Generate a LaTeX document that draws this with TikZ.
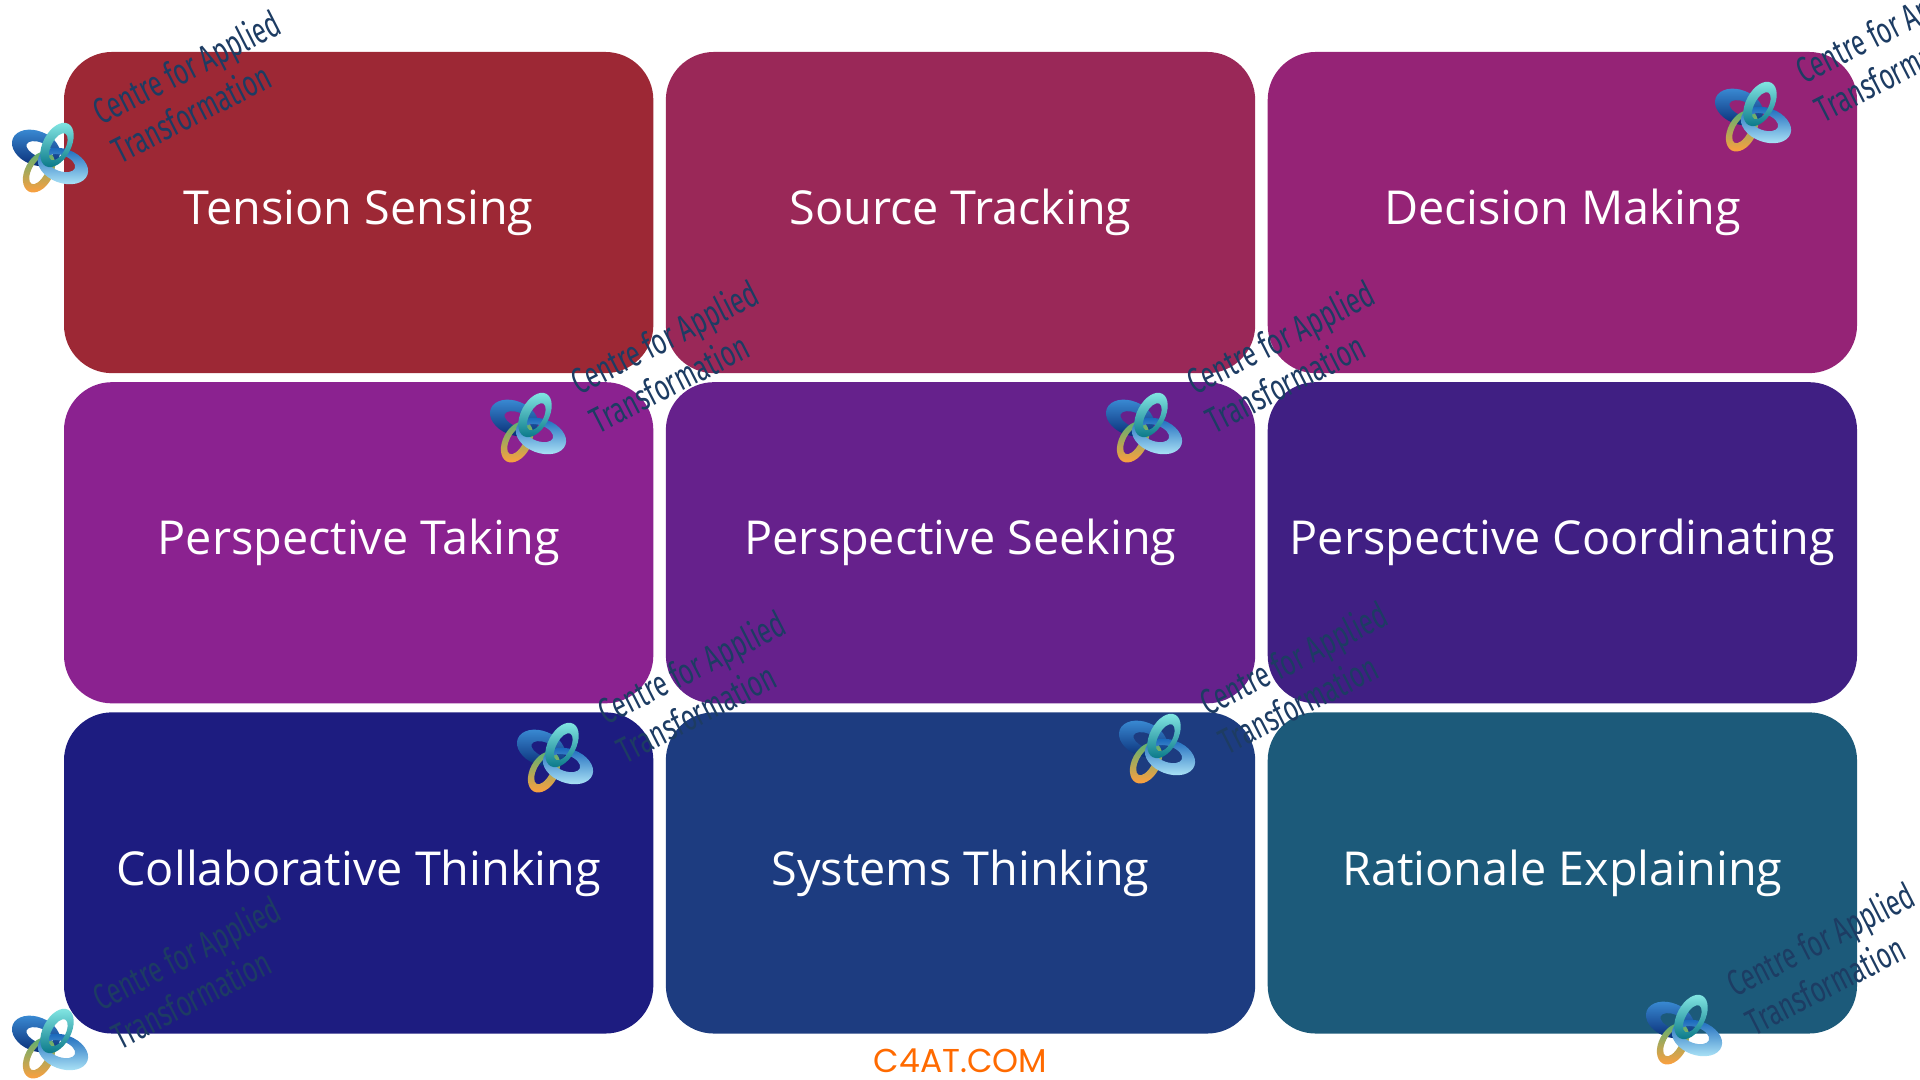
\documentclass[tikz,border=0pt]{standalone}
\usepackage{fontspec}
\setmainfont{Open Sans}
\newfontfamily\markfont[FakeStretch=0.68]{Fira Sans}
\newfontfamily\sitefont{Poppins}
\usepackage{xcolor}
\usetikzlibrary{positioning}
\definecolor{tensioncol}{HTML}{9D2835}
\definecolor{sourcecol}{HTML}{9A2858}
\definecolor{decisioncol}{HTML}{952376}
\definecolor{takingcol}{HTML}{8B2290}
\definecolor{seekingcol}{HTML}{66218C}
\definecolor{coordcol}{HTML}{401F83}
\definecolor{collabcol}{HTML}{1D1C80}
\definecolor{systemscol}{HTML}{1D3C80}
\definecolor{rationalecol}{HTML}{1C5A7A}
\definecolor{markcol}{HTML}{1D3C63}
\definecolor{sitecol}{HTML}{FF6A00}
\definecolor{navyring}{HTML}{0A2F78}
\definecolor{brightring}{HTML}{3C8FD8}
\definecolor{paleteal}{HTML}{7FE3E0}
\definecolor{deepteal}{HTML}{0E7C8C}
\definecolor{deepsky}{HTML}{1060B8}
\definecolor{palesky}{HTML}{A8E0F5}
\definecolor{goldring}{HTML}{F8A040}
\definecolor{greenring}{HTML}{60B070}

\begin{document}
\begin{tikzpicture}[
    x=0.01cm, y=0.01cm,
    node distance=0.09cm and 0.125cm,
    card/.style={rectangle, minimum width=5.89cm, minimum height=3.21cm,
                 rounded corners=0.48cm, align=center, inner sep=0pt, outer sep=0pt,
                 text=white, font=\fontsize{13.3}{16}\selectfont},
    watermark/.style={rotate=27, align=left, text=markcol, inner sep=0pt,
                      font=\markfont\fontsize{10.4}{12.2}\selectfont},
    site/.style={text=sitecol, inner sep=0pt, font=\sitefont\fontsize{9.4}{11}\selectfont},
    ringblue/.style={even odd rule, top color=brightring, bottom color=navyring},
    ringteal/.style={even odd rule, top color=paleteal, bottom color=deepteal},
    ringsky/.style={even odd rule, top color=deepsky, bottom color=palesky},
    ringgold/.style={even odd rule, bottom color=goldring, top color=greenring},
    logo/.pic={
        \node[watermark] (-label) at (146,71) {Centre for Applied\\Transformation};
        \begin{scope}[shift={(-14,9)}, rotate=-22]
            \shade[ringblue] (0,0) ellipse (25 and 17) (4,0) ellipse (14 and 7);
        \end{scope}
        \begin{scope}[shift={(-11,-15)}, rotate=62]
            \shade[ringgold] (0,0) ellipse (22 and 14) (1,1) ellipse (15 and 7);
        \end{scope}
        \begin{scope}[shift={(13,-9)}, rotate=-20]
            \shade[ringsky] (0,0) ellipse (26 and 17) (-3,2) ellipse (15 and 8);
        \end{scope}
        \begin{scope}[shift={(7,12)}, rotate=62]
            \shade[ringteal] (0,0) ellipse (24 and 14) (-1,-2) ellipse (15 and 7);
        \end{scope}
    }
]
    \useasboundingbox (0,0) rectangle (1920,1080);

    \node[card, fill=tensioncol, anchor=north west] (tension) at (64,1028) {Tension Sensing};
    \node[card, fill=sourcecol, right=of tension]   (source)   {Source Tracking};
    \node[card, fill=decisioncol, right=of source]  (decision) {Decision Making};
    \node[card, fill=takingcol, below=of tension]   (taking)   {Perspective Taking};
    \node[card, fill=seekingcol, right=of taking]   (seeking)  {Perspective Seeking};
    \node[card, fill=coordcol, right=of seeking]    (coord)    {Perspective Coordinating};
    \node[card, fill=collabcol, below=of taking]    (collab)   {Collaborative Thinking};
    \node[card, fill=systemscol, right=of collab]   (systems)  {Systems Thinking};
    \node[card, fill=rationalecol, right=of systems] (rationale) {Rationale Explaining};
    \node[site, below=0.15cm of systems] (sitename) {C4AT.COM};

    \pic (tensionmark)  at (50,923)    {logo};
    \pic (decisionmark) at (1753,964)  {logo};
    \pic (takingmark)   at (528,653)   {logo};
    \pic (seekingmark)  at (1144,653)  {logo};
    \pic (collabmark)   at (555,323)   {logo};
    \pic (systemsmark)  at (1157,332)  {logo};
    \pic (cornermark)   at (50,37)     {logo};
    \pic (rationalemark) at (1684,51)  {logo};

\end{tikzpicture}
\end{document}
